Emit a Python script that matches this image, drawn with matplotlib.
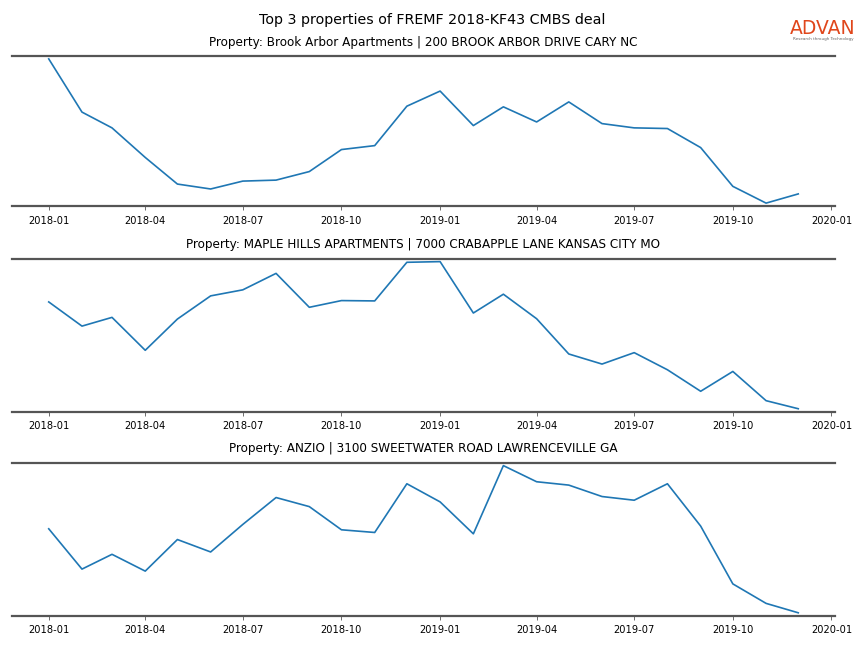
import numpy as np
import pandas as pd
import matplotlib
matplotlib.use('Agg')
import matplotlib.pyplot as plt
import matplotlib.dates as mdates

months = pd.date_range('2018-01-01', '2019-12-01', freq='MS')

titles = ['Property: Brook Arbor Apartments | 200 BROOK ARBOR DRIVE CARY NC',
          'Property: MAPLE HILLS APARTMENTS | 7000 CRABAPPLE LANE KANSAS CITY MO',
          'Property: ANZIO | 3100 SWEETWATER ROAD LAWRENCEVILLE GA']

brook_arbor = [456, 294, 246, 156, 75, 60, 84, 87, 113, 180, 192, 312,
               358, 253, 310, 264, 325, 259, 246, 244, 186, 68, 17, 45]
maple_hills = [337, 265, 291, 193, 286, 355, 373, 422, 321, 341, 340, 455,
               457, 304, 360, 287, 182, 152, 186, 135, 71, 130, 43, 19]
anzio = [272, 152, 196, 146, 240, 203, 285, 365, 338, 269, 261, 406,
         352, 257, 460, 412, 402, 368, 357, 406, 280, 108, 50, 22]

series = [brook_arbor, maple_hills, anzio]

fig = plt.figure(figsize=(8.64, 6.48), dpi=100)
fig.suptitle('Top 3 properties of FREMF 2018-KF43 CMBS deal', fontsize=10.3, y=0.969, va='center')

# axes boxes (left, bottom, width, height)
boxes = [(0.0139, 0.6821, 0.9525, 0.2315),
         (0.0139, 0.3647, 0.9525, 0.2361),
         (0.0139, 0.0498, 0.9525, 0.2362)]

for box, vals, t in zip(boxes, series, titles):
    ax = fig.add_axes(box)
    ax.plot(months, vals, color='#1f77b4', lw=1.2)
    ax.set_title(t, fontsize=8.65, pad=7.5)
    ax.margins(x=0.049, y=0.02)
    for s in ['left', 'right']:
        ax.spines[s].set_visible(False)
    for s in ['top', 'bottom']:
        ax.spines[s].set_color('#555555')
        ax.spines[s].set_linewidth(1.6)
    ax.set_yticks([])
    ax.xaxis.set_major_locator(mdates.MonthLocator(bymonth=[1, 4, 7, 10]))
    ax.xaxis.set_major_formatter(mdates.DateFormatter('%Y-%m'))
    ax.tick_params(axis='x', labelsize=7.1, length=3, width=0.6, color='#555555', pad=4)

# logo
fig.text(0.9525, 0.956, 'ADVAN', color='#E0461B', fontsize=13.5, weight='medium', ha='center', va='center')
fig.text(0.9525, 0.940, 'Research through Technology', color='#666666', fontsize=3, ha='center', va='center')

plt.savefig('out.png', dpi=100)
